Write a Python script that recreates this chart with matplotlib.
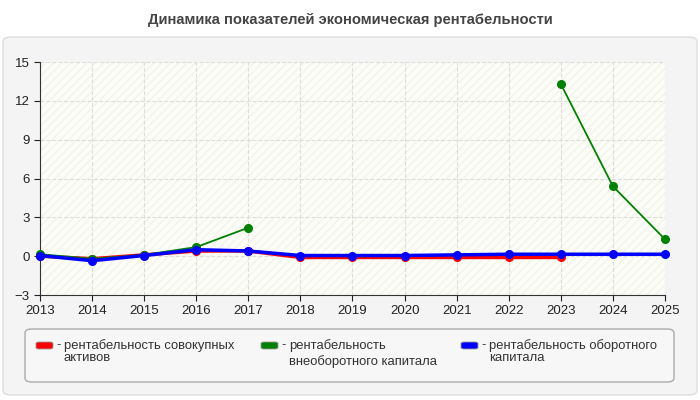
import matplotlib.pyplot as plt
from matplotlib.patches import FancyBboxPatch, Rectangle
import numpy as np

plt.rcParams['font.family'] = ['Liberation Sans', 'DejaVu Sans']

years = [2013, 2014, 2015, 2016, 2017, 2018, 2019, 2020, 2021, 2022, 2023, 2024, 2025]
nan = np.nan
assets = [0.0, -0.2, 0.1, 0.4, 0.4, -0.1, -0.1, -0.1, -0.1, -0.1, -0.1, nan, nan]
noncurrent = [0.15, -0.2, 0.1, 0.7, 2.2, nan, nan, nan, nan, nan, 13.3, 5.4, 1.3]
current = [0.05, -0.35, 0.05, 0.5, 0.4, 0.05, 0.05, 0.05, 0.1, 0.15, 0.15, 0.15, 0.15]

labels = ["рентабельность совокупных\nактивов",
          "рентабельность\nвнеоборотного капитала",
          "рентабельность оборотного\nкапитала"]
colors = ["#ff0000", "#008000", "#0000ff"]

fig = plt.figure(figsize=(7, 4), dpi=100)
fig.patch.set_facecolor("white")

# outer panel
fig.patches.append(FancyBboxPatch((3 / 700, 5 / 400), 694 / 700, 358 / 400,
                                  boxstyle="round,pad=0,rounding_size=0.012",
                                  transform=fig.transFigure, facecolor="#f4f4f4",
                                  edgecolor="#dddddd", linewidth=1, zorder=-2))
# legend box
fig.patches.append(FancyBboxPatch((25 / 700, 18 / 400), 649 / 700, 53 / 400,
                                  boxstyle="round,pad=0,rounding_size=0.01",
                                  transform=fig.transFigure, facecolor="#f7f7f7",
                                  edgecolor="#aaaaaa", linewidth=1, zorder=-1))

fig.text(0.5, 1 - 20 / 400, "Динамика показателей экономическая рентабельности",
         ha="center", va="center", fontsize=10.6, fontweight="bold", color="#444444")

ax = fig.add_axes([40 / 700, 105 / 400, 625 / 700, 233 / 400])
ax.set_zorder(1)
ax.set_facecolor("#fdfdf8")
ax.add_patch(Rectangle((0, 0), 1, 1, transform=ax.transAxes, facecolor="none",
                       edgecolor="#f3f3ec", hatch="////", linewidth=0, zorder=0))

series = [assets, noncurrent, current]
widths = [2.5, 1.3, 2.5]
for vals, c, lw in zip(series, colors, widths):
    ax.plot(years, vals, color=c, linewidth=lw, marker="o", markersize=5.5, zorder=3,
            clip_on=False)

ax.set_xlim(2013, 2025)
ax.set_ylim(-3, 15)
ax.set_xticks(years)
ax.set_yticks([-3, 0, 3, 6, 9, 12, 15])
ax.grid(True, color="#dddddd", linestyle="--", linewidth=0.8)
for s in ["top", "right"]:
    ax.spines[s].set_visible(False)
for s in ["left", "bottom"]:
    ax.spines[s].set_color("#333333")
ax.tick_params(labelsize=9.5, colors="#222222", length=4)

# legend entries
xs = [36, 261, 461]
spacing = [1.0, 1.35, 1.0]
for x0, c, lab, ls in zip(xs, colors, labels, spacing):
    fig.patches.append(FancyBboxPatch((x0 / 700, (400 - 349) / 400), 17 / 700, 7 / 400,
                                      boxstyle="round,pad=0,rounding_size=0.004",
                                      transform=fig.transFigure, facecolor=c,
                                      edgecolor="#999999", linewidth=0.6, zorder=2))
    fig.text((x0 + 20) / 700, 1 - 345 / 400, "-", ha="left", va="center",
             fontsize=9.4, color="#333333")
    fig.text((x0 + 28) / 700, 1 - 339 / 400, lab,
             ha="left", va="top", fontsize=9.4, color="#333333", linespacing=ls)

fig.savefig("out.png", dpi=100, facecolor=fig.get_facecolor())
